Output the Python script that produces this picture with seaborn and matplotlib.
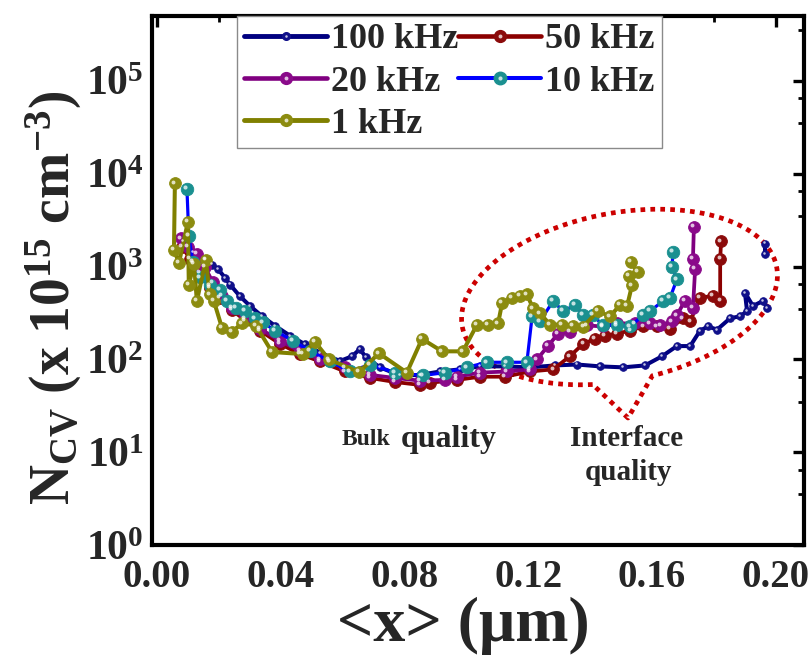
import numpy as np
import pandas as pd
import matplotlib
matplotlib.use("Agg")
import matplotlib.pyplot as plt
import seaborn as sns
from matplotlib.lines import Line2D
from matplotlib.legend_handler import HandlerTuple
from matplotlib.transforms import ScaledTranslation
from matplotlib.ticker import MultipleLocator, LogLocator, FuncFormatter, NullFormatter

# ---------------- data ----------------
x100 = [0.0084, 0.0116, 0.0155, 0.0178, 0.0197, 0.0220, 0.0236, 0.0268, 0.0301, 0.0340,
        0.0382, 0.0430, 0.0479, 0.0527, 0.0592, 0.0631, 0.0656, 0.0676, 0.0721, 0.0786,
        0.0850, 0.0915, 0.0980, 0.1044, 0.1125, 0.1206, 0.1287, 0.1358, 0.1432, 0.1507,
        0.1578, 0.1633, 0.1681, 0.1724, 0.1756, 0.1782, 0.1811, 0.1853, 0.1885, 0.1908,
        0.1901, 0.1927, 0.1960, 0.1973, 0.1966, 0.1966]
y100 = [1865, 1445, 1210, 1050, 938, 760, 640, 480, 376, 291,
        230, 180, 145, 118, 96, 108, 129, 105, 82, 67,
        68, 74, 78, 84, 84, 82, 86, 88, 84, 82,
        86, 108, 139, 139, 204, 226, 209, 277, 291, 330,
        523, 376, 427, 357, 1370, 1770]
seg100 = [0] * 44 + [1] * 2

x50 = [0.0081, 0.0107, 0.0139, 0.0171, 0.0204, 0.0243, 0.0285, 0.0333, 0.0398, 0.0462,
       0.0527, 0.0608, 0.0689, 0.0770, 0.0850, 0.0883, 0.0970, 0.1044, 0.1125, 0.1206,
       0.1281, 0.1335, 0.1378, 0.1416, 0.1449, 0.1487, 0.1530, 0.1572, 0.1617, 0.1659,
       0.1701, 0.1724, 0.1756, 0.1798, 0.1821, 0.1821, 0.1824]
y50 = [1640, 1210, 869, 593, 460, 339, 263, 204, 147, 114,
       95, 74, 63, 57, 53, 56, 60, 65, 65, 74,
       78, 108, 147, 166, 180, 189, 204, 226, 226, 214,
       277, 256, 460, 484, 427, 1210, 1865]

x20 = [0.0078, 0.0100, 0.0129, 0.0155, 0.0181, 0.0210, 0.0243, 0.0285, 0.0333, 0.0398,
       0.0462, 0.0527, 0.0608, 0.0689, 0.0770, 0.0850, 0.0931, 0.0970, 0.1044, 0.1132,
       0.1206, 0.1229, 0.1264, 0.1297, 0.1335, 0.1390, 0.1442, 0.1487, 0.1546, 0.1594,
       0.1627, 0.1665, 0.1681, 0.1707, 0.1733, 0.1740, 0.1733, 0.1736]
y20 = [2010, 1640, 1370, 987, 674, 484, 357, 277, 214, 158,
       123, 100, 82, 68, 63, 59, 60, 65, 72, 74,
       78, 100, 139, 189, 199, 232, 226, 244, 244, 244,
       232, 256, 299, 427, 357, 938, 1210, 2660]

x10 = [0.0097, 0.0103, 0.0116, 0.0139, 0.0171, 0.0204, 0.0226, 0.0255, 0.0285, 0.0317,
       0.0343, 0.0382, 0.0440, 0.0495, 0.0559, 0.0624, 0.0689, 0.0770, 0.0860, 0.0931,
       0.1002, 0.1067, 0.1132, 0.1196, 0.1213, 0.1238, 0.1281, 0.1313, 0.1352, 0.1378,
       0.1410, 0.1442, 0.1487, 0.1530, 0.1572, 0.1594, 0.1636, 0.1659, 0.1681, 0.1665,
       0.1669]
y10 = [6820, 2120, 1120, 765, 625, 564, 425, 357, 330, 277,
       250, 204, 158, 123, 95, 74, 88, 72, 67, 72,
       82, 93, 93, 93, 291, 256, 425, 330, 385, 299,
       299, 232, 232, 226, 299, 330, 425, 460, 728, 987,
       1445]

x1 = [0.0058, 0.0055, 0.0071, 0.0100, 0.0103, 0.0120, 0.0129, 0.0158, 0.0171, 0.0184,
      0.0210, 0.0243, 0.0275, 0.0320, 0.0372, 0.0472, 0.0511, 0.0556, 0.0653, 0.0718,
      0.0808, 0.0857, 0.0922, 0.0989, 0.1035, 0.1070, 0.1103, 0.1116, 0.1148, 0.1174,
      0.1196, 0.1216, 0.1238, 0.1271, 0.1310, 0.1345, 0.1378, 0.1426, 0.1465, 0.1497,
      0.1520, 0.1536, 0.1526, 0.1555, 0.1532]
y1 = [7900, 1520, 1090, 3020, 640, 1070, 425, 1180, 500, 425,
      220, 199, 244, 231, 120, 114, 154, 100, 73, 116,
      72, 166, 122, 122, 237, 237, 244, 405, 460, 485,
      500, 356, 314, 237, 237, 231, 225, 331, 290, 385,
      375, 630, 800, 870, 1120]

freqs = ["100 kHz", "50 kHz", "20 kHz", "10 kHz", "1 kHz"]
xs_list = [x100, x50, x20, x10, x1]
ys_list = [y100, y50, y20, y10, y1]
segs_list = [seg100, [0] * len(x50), [0] * len(x20), [0] * len(x10), [0] * len(x1)]

x_ticks_major = [0.00, 0.04, 0.08, 0.12, 0.16, 0.20]

# ---------------- styles ----------------
line_colors = {"100 kHz": "#000080", "50 kHz": "#8B0000", "20 kHz": "#800080",
               "10 kHz": "#0000FF", "1 kHz": "#808000"}
marker_colors = {"100 kHz": "#10108A", "50 kHz": "#8B0A0A", "20 kHz": "#8A0A8A",
                 "10 kHz": "#1A9090", "1 kHz": "#8C8C10"}
marker_sizes = {"100 kHz": 5.5, "50 kHz": 8.5, "20 kHz": 8.5, "10 kHz": 9.0, "1 kHz": 8.5}
line_widths = {"100 kHz": 2.9, "50 kHz": 2.7, "20 kHz": 2.7, "10 kHz": 2.3, "1 kHz": 2.9}

rows = []
for f, xs, ys, sg in zip(freqs, xs_list, ys_list, segs_list):
    for xv, yv, s in zip(xs, ys, sg):
        rows.append((f, xv, yv, s))
df = pd.DataFrame(rows, columns=["freq", "x", "y", "seg"])

sns.set_theme(style="white")
plt.rcParams["font.family"] = ["Liberation Serif", "DejaVu Serif"]
plt.rcParams["font.weight"] = "bold"
plt.rcParams["mathtext.fontset"] = "custom"
plt.rcParams["mathtext.rm"] = "Liberation Serif:bold"
plt.rcParams["mathtext.it"] = "Liberation Serif:bold"
plt.rcParams["mathtext.bf"] = "Liberation Serif:bold"
plt.rcParams["mathtext.default"] = "regular"

W, H = 810, 659
L, R, T, B = 152, 804, 16, 545
fig = plt.figure(figsize=(W / 100, H / 100), dpi=100)
ax = fig.add_axes([L / W, (H - B) / H, (R - L) / W, (B - T) / H])

for f in freqs:
    sub = df[df["freq"] == f]
    ms = marker_sizes[f]
    sns.lineplot(data=sub, x="x", y="y", units="seg", estimator=None, sort=False,
                 color=line_colors[f], lw=line_widths[f], marker="o", markersize=ms,
                 markerfacecolor=marker_colors[f], markeredgecolor=marker_colors[f],
                 markeredgewidth=0.6, legend=False, ax=ax, zorder=3)
    off = ScaledTranslation(-ms * 0.14 / 72, ms * 0.14 / 72, fig.dpi_scale_trans)
    ax.plot(sub["x"], sub["y"], ls="none", marker="o", ms=ms * 0.33, color="white",
            alpha=0.75, mew=0, transform=ax.transData + off, zorder=3.1)

ax.set_yscale("log")
ax.set_xlim(-0.0016, 0.2092)
ax.set_ylim(1, 5.0e5)
ax.set_xlabel("<x> (μm)", fontsize=46, fontweight="bold")
ax.set_ylabel(r"$\mathregular{N_{CV}}$ (x 10$^{\mathregular{15}}$ cm$^{\mathregular{-3}}$)",
              fontsize=40, fontweight="bold")
ax.xaxis.set_label_coords((463 - L) / (R - L), (B - 597) / (B - T))
ax.yaxis.set_label_coords((84 - L) / (R - L), (B - 298) / (B - T))

ax.set_xticks(x_ticks_major)
ax.xaxis.set_minor_locator(MultipleLocator(0.02))
ax.xaxis.set_major_formatter(FuncFormatter(lambda v, p: f"{abs(v):.2f}"))
ax.yaxis.set_major_locator(LogLocator(base=10, numticks=10))
ax.yaxis.set_minor_locator(LogLocator(base=10, subs=(3.5, 6.5), numticks=10))
ax.yaxis.set_minor_formatter(NullFormatter())
ax.yaxis.set_major_formatter(FuncFormatter(lambda v, p: r"$\mathregular{10^{%d}}$" % round(np.log10(v))))

ax.tick_params(which="both", direction="in", top=True, right=True, color="black")
ax.tick_params(which="major", length=8, width=2.4)
ax.tick_params(axis="x", which="major", labelsize=28, pad=10)
ax.tick_params(axis="y", which="major", labelsize=30, pad=6)
ax.tick_params(which="minor", length=4.5, width=2.0)
for sp in ax.spines.values():
    sp.set_linewidth(3.0)
    sp.set_color("black")
    sp.set_visible(True)

# ---------------- legend ----------------
handles = {}
for f in freqs:
    ms = marker_sizes[f]
    h1 = Line2D([], [], color=line_colors[f], lw=line_widths[f] + 0.6, marker="o", ms=ms,
                mfc=marker_colors[f], mec=marker_colors[f])
    h2 = Line2D([], [], ls="none", marker="o", ms=ms * 0.33, color="white", alpha=0.75, mew=0)
    handles[f] = (h1, h2)
order = ["100 kHz", "20 kHz", "1 kHz", "50 kHz", "10 kHz"]
leg = ax.legend([handles[f] for f in order], order, ncol=2,
                handler_map={tuple: HandlerTuple(ndivide=1, pad=0)},
                loc="upper left", bbox_to_anchor=((237 - L) / (R - L), 1.0),
                frameon=True, fancybox=False, edgecolor="#8a8a8a", framealpha=1,
                prop={"family": "Liberation Serif", "weight": "bold", "size": 26},
                handlelength=2.3, handletextpad=0.1, columnspacing=0.0,
                labelspacing=0.25, borderpad=0.2, borderaxespad=0.0)
leg.get_frame().set_linewidth(1.0)
leg.set_zorder(5)

# ---------------- annotation: dotted callout ----------------
def to_axes(px, py):
    return (np.asarray(px) - L) / (R - L), (B - np.asarray(py)) / (B - T)

cx, cy, ea, eb, th = 619.5, 297.0, 160.0, 84.0, np.deg2rad(10.8)
tt = np.deg2rad(np.linspace(105.5, 443.7, 400))
ex = cx + ea * np.cos(tt) * np.cos(th) + eb * np.sin(tt) * np.sin(th)
ey = cy - ea * np.cos(tt) * np.sin(th) + eb * np.sin(tt) * np.cos(th)
px = np.concatenate([ex, [628.0, ex[0]]])
py = np.concatenate([ey, [418.0, ey[0]]])
fx, fy = to_axes(px, py)
ax.plot(fx, fy, transform=ax.transAxes, color="#CC0000", lw=3.4, ls=(0, (1, 1.1)),
        dash_capstyle="butt", zorder=2, clip_on=False)

# ---------------- annotation texts ----------------
tx, ty = to_axes(342, 445)
ax.text(tx, ty, "Bulk", transform=ax.transAxes, fontsize=17, fontweight="bold",
        ha="left", va="baseline")
tx, ty = to_axes(401, 447)
ax.text(tx, ty, "quality", transform=ax.transAxes, fontsize=23, fontweight="bold",
        ha="left", va="baseline")
tx, ty = to_axes(627, 446)
ax.text(tx, ty, "Interface", transform=ax.transAxes, fontsize=21, fontweight="bold",
        ha="center", va="baseline")
tx, ty = to_axes(628, 480)
ax.text(tx, ty, "quality", transform=ax.transAxes, fontsize=21, fontweight="bold",
        ha="center", va="baseline")

fig.savefig("out.png", dpi=100)
